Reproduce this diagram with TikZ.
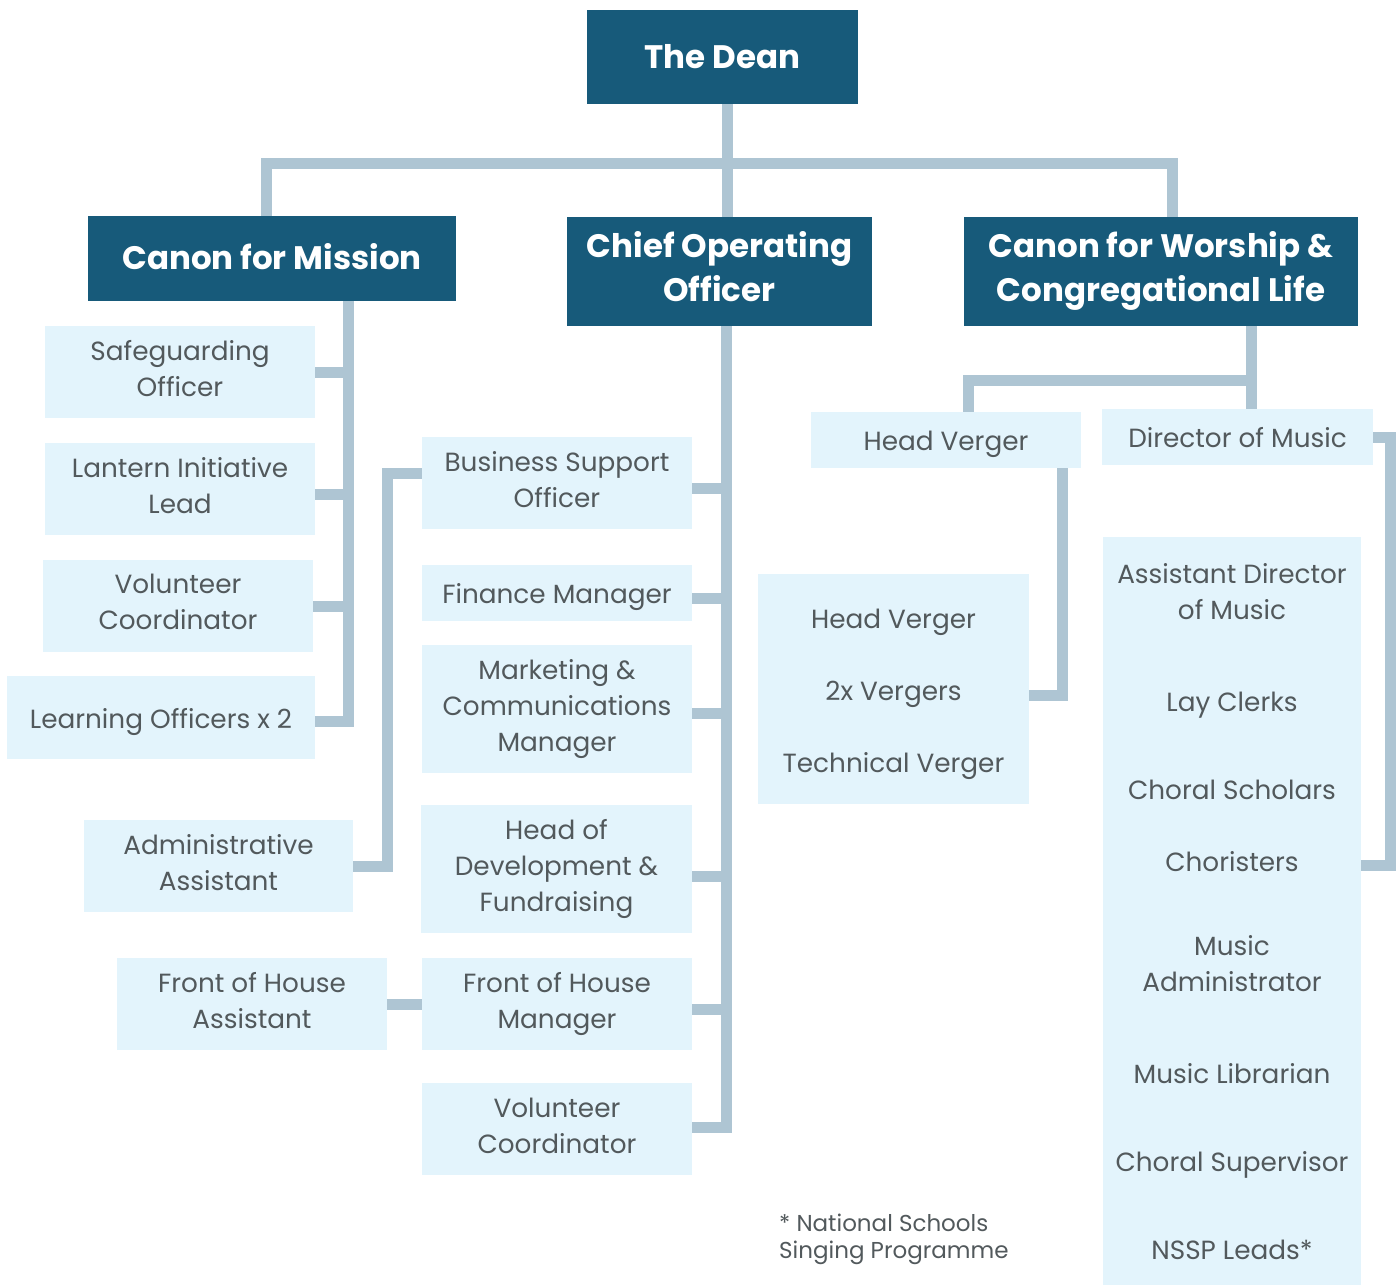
\documentclass[tikz,border=0pt]{standalone}
\usepackage{fontspec}
\setmainfont{Poppins}
\definecolor{headbox}{HTML}{175A7A}
\definecolor{rolebox}{HTML}{E3F4FC}
\definecolor{linkline}{HTML}{AEC5D3}
\definecolor{roletext}{HTML}{52595C}
% line struts: role lines 36pt tall, heading lines 44pt tall
\newcommand\rstrut{\rule[-7.5pt]{0pt}{36pt}}
\newcommand\hstrut{\rule[-11pt]{0pt}{44pt}}
\newcommand\rbr{\\\rstrut}
\newcommand\hbr{\\\hstrut}
\begin{document}
\begin{tikzpicture}[x=1pt,y=-1pt,
  head/.style={fill=headbox,text=white,inner sep=0pt,align=center,
    font=\fontsize{32.5}{44}\selectfont\bfseries,execute at begin node=\hstrut},
  role/.style={fill=rolebox,text=roletext,inner sep=0pt,align=center,
    font=\fontsize{26.3}{36}\selectfont,execute at begin node=\rstrut},
  entry/.style={text=roletext,inner sep=0pt,align=center,
    font=\fontsize{26.3}{36}\selectfont,execute at begin node=\rstrut},
  conn/.style={draw=linkline,line width=11pt}]
\useasboundingbox (0,0) rectangle (1399,1286);

% senior posts
\node[head,minimum width=271,minimum height=94] (dean) at (722.5,57) {The Dean};
\node[head,minimum width=368,minimum height=85] (mission) at (272,258.5) {Canon for Mission};
\node[head,minimum width=305,minimum height=109] (coo) at (719.5,271.5) {Chief Operating\hbr Officer};
\node[head,minimum width=394,minimum height=109] (worship) at (1161,271.5) {Canon for Worship \&\hbr Congregational Life};

% mission team
\node[role,minimum width=270,minimum height=92] (safe) at (180,372) {Safeguarding\rbr Officer};
\node[role,minimum width=270,minimum height=92] (lantern) at (180,489) {Lantern Initiative\rbr Lead};
\node[role,minimum width=270,minimum height=92] (volmis) at (178,606) {Volunteer\rbr Coordinator};
\node[role,minimum width=308,minimum height=83] (learn) at (161,717.5) {Learning Officers x 2};

% operations team
\node[role,minimum width=270,minimum height=92] (bus) at (557,483) {Business Support\rbr Officer};
\node[role,minimum width=270,minimum height=56] (fin) at (557,593) {Finance Manager};
\node[role,minimum width=270,minimum height=128] (mkt) at (557,709) {Marketing \&\rbr Communications\rbr Manager};
\node[role,minimum width=271,minimum height=128] (dev) at (556.5,869) {Head of\rbr Development \&\rbr Fundraising};
\node[role,minimum width=270,minimum height=92] (fohm) at (557,1004) {Front of House\rbr Manager};
\node[role,minimum width=270,minimum height=92] (volcoo) at (557,1129) {Volunteer\rbr Coordinator};
\node[role,minimum width=269,minimum height=92] (admin) at (218.5,866) {Administrative\rbr Assistant};
\node[role,minimum width=270,minimum height=92] (foha) at (252,1004) {Front of House\rbr Assistant};

% worship team
\node[role,minimum width=270,minimum height=56] (hv) at (946,440) {Head Verger};
\node[role,minimum width=271,minimum height=56] (dir) at (1237.5,437) {Director of Music};
\node[role,minimum width=271,minimum height=230] (vg) at (893.5,689) {};
\node[entry] (vg1) at (893.5,618) {Head Verger};
\node[entry] (vg2) at (893.5,690) {2x Vergers};
\node[entry] (vg3) at (893.5,762) {Technical Verger};
\node[role,minimum width=258,minimum height=748] (music) at (1232,911) {};
\node[entry] (mu1) at (1232,595) {Assistant Director\rbr of Music};
\node[entry] (mu2) at (1232,701) {Lay Clerks};
\node[entry] (mu3) at (1232,789) {Choral Scholars};
\node[entry] (mu4) at (1232,861) {Choristers};
\node[entry] (mu5) at (1232,967) {Music\rbr Administrator};
\node[entry] (mu6) at (1232,1073) {Music Librarian};
\node[entry] (mu7) at (1232,1161) {Choral Supervisor};
\node[entry] (mu8) at (1232,1249) {NSSP Leads*};

\node[text=roletext,anchor=west,inner sep=0pt,align=left,
  font=\fontsize{23}{27}\selectfont] (note) at (779,1239)
  {* National Schools\\Singing Programme};

% top-level tree
\coordinate (trunk) at (727,163);
\draw[conn] (dean.south -| trunk) -- (coo.north -| trunk);
\draw[conn] ([xshift=-6]mission.north) |- (trunk) -| ([xshift=11]worship.north);

% mission spine
\coordinate (mspine) at (348,0);
\draw[conn] (mission.south -| mspine) |- ([yshift=-4]learn.east);
\draw[conn] (safe.east) -- (safe.east -| mspine);
\draw[conn] ([yshift=-5]lantern.east) -- ([yshift=-5]lantern.east -| mspine);
\draw[conn] (volmis.east) -- (volmis.east -| mspine);

% operations spine
\coordinate (cspine) at (726,0);
\draw[conn] (coo.south -| cspine) |- ([yshift=2]volcoo.east);
\draw[conn] ([yshift=-5]bus.east) -- ([yshift=-5]bus.east -| cspine);
\draw[conn] ([yshift=-5]fin.east) -- ([yshift=-5]fin.east -| cspine);
\draw[conn] ([yshift=-4]mkt.east) -- ([yshift=-4]mkt.east -| cspine);
\draw[conn] ([yshift=-7]dev.east) -- ([yshift=-7]dev.east -| cspine);
\draw[conn] ([yshift=-5]fohm.east) -- ([yshift=-5]fohm.east -| cspine);
\draw[conn] ([yshift=10]bus.west) -| ([xshift=34]admin.east) -- (admin.east);
\draw[conn] (foha.east) -- (fohm.west);

% worship links
\coordinate (wjoin) at (1251,380);
\draw[conn] (worship.south -| wjoin) -- (dir.north -| wjoin);
\draw[conn] (wjoin) -| ([xshift=22]hv.north);
\draw[conn] ([xshift=116]hv.south) |- ([yshift=-6]vg.east);
\draw[conn] (dir.east) -| ([xshift=29,yshift=46]music.east) -- ([yshift=46]music.east);
\end{tikzpicture}
\end{document}
